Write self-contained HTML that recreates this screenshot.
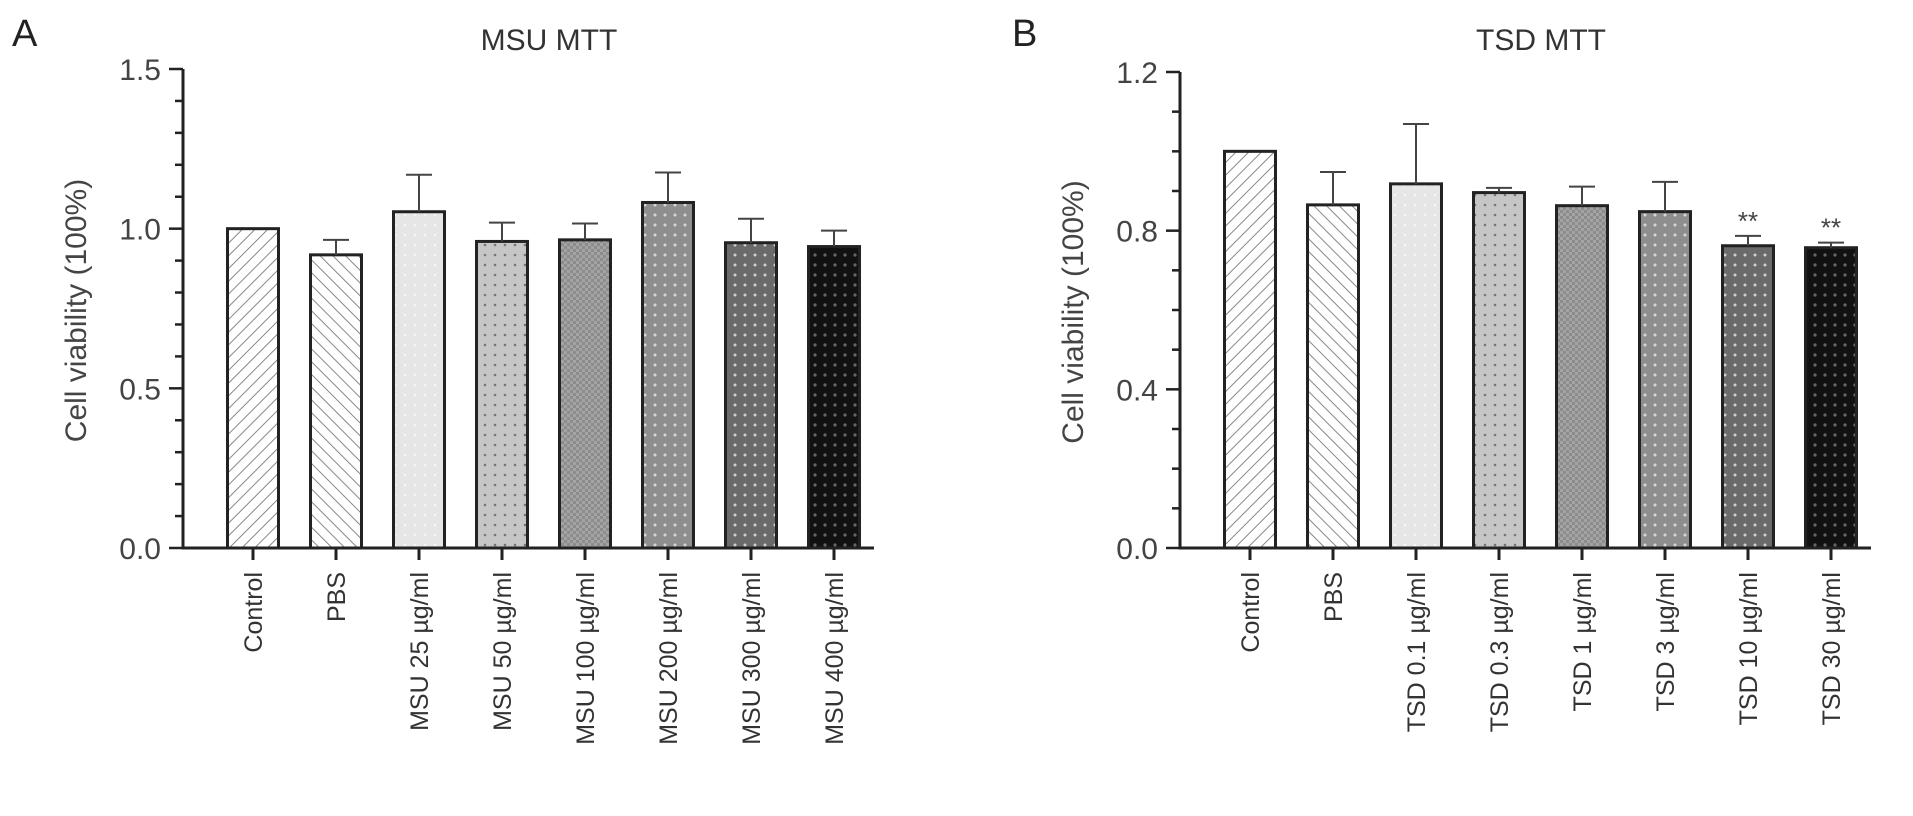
<!DOCTYPE html>
<html><head><meta charset="utf-8"><style>
html,body{margin:0;padding:0;background:#fff;}
svg{display:block;font-family:"Liberation Sans",Arial,sans-serif;}
</style></head><body>
<svg id="chart" width="1913" height="816" viewBox="0 0 1913 816">
<defs>
<pattern id="p0" patternUnits="userSpaceOnUse" width="9" height="9" patternTransform="rotate(45)"><rect width="9" height="9" fill="#fff"/><line x1="0" y1="0" x2="0" y2="9" stroke="#888" stroke-width="2"/></pattern>
<pattern id="p1" patternUnits="userSpaceOnUse" width="9" height="9" patternTransform="rotate(-45)"><rect width="9" height="9" fill="#fff"/><line x1="0" y1="0" x2="0" y2="9" stroke="#888" stroke-width="2"/></pattern>
<pattern id="p2" patternUnits="userSpaceOnUse" width="10" height="10"><rect width="10" height="10" fill="#e6e6e6"/><circle cx="5" cy="5" r="1.3" fill="#f6f6f6"/></pattern>
<pattern id="p3" patternUnits="userSpaceOnUse" width="10" height="10"><rect width="10" height="10" fill="#c6c6c6"/><circle cx="5" cy="5" r="1.3" fill="#777"/></pattern>
<pattern id="p4" patternUnits="userSpaceOnUse" width="6" height="6"><rect width="6" height="6" fill="#a4a4a4"/><rect width="3" height="3" fill="#8c8c8c"/><rect x="3" y="3" width="3" height="3" fill="#8c8c8c"/></pattern>
<pattern id="p5" patternUnits="userSpaceOnUse" width="10" height="10"><rect width="10" height="10" fill="#8e8e8e"/><circle cx="5" cy="5" r="1.5" fill="#d8d8d8"/></pattern>
<pattern id="p6" patternUnits="userSpaceOnUse" width="10" height="10"><rect width="10" height="10" fill="#6a6a6a"/><circle cx="5" cy="5" r="1.5" fill="#d0d0d0"/></pattern>
<pattern id="p7" patternUnits="userSpaceOnUse" width="10" height="10"><rect width="10" height="10" fill="#111"/><circle cx="5" cy="5" r="1.6" fill="#666"/></pattern>
</defs>
<text x="12" y="46" font-size="38" fill="#222">A</text>
<text x="1012" y="46" font-size="38" fill="#222">B</text>
</svg>
<script>
const catsA = ["Control","PBS","MSU 25 µg/ml","MSU 50 µg/ml","MSU 100 µg/ml","MSU 200 µg/ml","MSU 300 µg/ml","MSU 400 µg/ml"];
const valsA = [1.0,0.918,1.053,0.96,0.965,1.082,0.956,0.944];
const errA  = [0.0,0.047,0.116,0.059,0.051,0.094,0.075,0.05];
const ticksA = ["0.0","0.5","1.0","1.5"];
const catsB = ["Control","PBS","TSD 0.1 µg/ml","TSD 0.3 µg/ml","TSD 1 µg/ml","TSD 3 µg/ml","TSD 10 µg/ml","TSD 30 µg/ml"];
const valsB = [1.0,0.865,0.918,0.896,0.863,0.848,0.762,0.757];
const errB  = [0.0,0.083,0.151,0.012,0.048,0.075,0.025,0.013];
const ticksB = ["0.0","0.4","0.8","1.2"];
const sigB = ["","","","","","","**","**"];

const svg = document.getElementById('chart');
const NS = "http://www.w3.org/2000/svg";
function mk(tag, attrs, parent){const e=document.createElementNS(NS,tag);for(const k in attrs)e.setAttribute(k,attrs[k]);(parent||svg).appendChild(e);return e;}

function panel(o){
  const g = mk('g',{});
  
  
  const y0=548, ytop=o.ytop, ymax=o.ymax;
  const ys = v => y0-(v/ymax)*(y0-ytop);
  const xs = i => o.ax+70+83*i;
  const t=mk('text',{x:o.tx,y:50,'font-size':30,'text-anchor':'middle',fill:'#333'},g);t.textContent=o.title;
  
  
  const yt=mk('text',{x:0,y:0,'font-size':30,'text-anchor':'middle',fill:'#444',transform:`translate(${o.ax-97},${(y0+ytop)/2+2}) rotate(-90)`},g);yt.textContent="Cell viability (100%)";
  
  
  o.vals.forEach((v,i)=>{
    const cx=xs(i), top=ys(v);
    const r=mk('rect',{x:cx-25.5,y:top,width:51,height:y0-top,fill:`url(#p${i})`,stroke:'#222','stroke-width':3},g);
    
    
    if(o.err[i]>0){
      const et=ys(v+o.err[i]);
      const el=mk('path',{d:`M${cx},${top} V${et} M${cx-13},${et} H${cx+13}`,stroke:'#444','stroke-width':2,fill:'none'},g);
      
      
    }
    if(o.sig && o.sig[i]){
      const s=mk('text',{x:cx,y:ys(v+o.err[i])-6,'font-size':26,'text-anchor':'middle',fill:'#444'},g);s.textContent=o.sig[i];
      
      
    }
    mk('line',{x1:cx,y1:y0,x2:cx,y2:y0+12,stroke:'#222','stroke-width':3},g);
    const lb=mk('text',{x:0,y:0,'font-size':25,'text-anchor':'end',fill:'#333',transform:`translate(${cx+9},${y0+24}) rotate(-90)`},g);lb.textContent=o.cats[i];
    
    
  });
  const ax=mk('path',{d:`M${o.ax},${ytop} V${y0} H${xs(7)+40}`,stroke:'#222','stroke-width':3,fill:'none'},g);
  
  
  const nMinor=Math.round(ymax/0.1);
  for(let k=0;k<=nMinor;k++){
    const v=k*0.1, y=ys(v);
    const major = (k % o.majorEvery)===0;
    mk('line',{x1:o.ax-(major?14:8),y1:y,x2:o.ax,y2:y,stroke:'#222','stroke-width':2.5},g);
  }
  o.ticks.forEach(tl=>{
    const tx=mk('text',{x:o.ax-22,y:ys(parseFloat(tl))+11,'font-size':30,'text-anchor':'end',fill:'#444'},g);tx.textContent=tl;
    
    
  });
}
panel({id:'msu',title:'MSU MTT',tx:549,ax:183,ytop:69,ymax:1.5,cats:catsA,vals:valsA,err:errA,ticks:ticksA,majorEvery:5});
panel({id:'tsd',title:'TSD MTT',tx:1541,ax:1180,ytop:72,ymax:1.2,cats:catsB,vals:valsB,err:errB,ticks:ticksB,majorEvery:4,sig:sigB});
</script>
</body></html>
